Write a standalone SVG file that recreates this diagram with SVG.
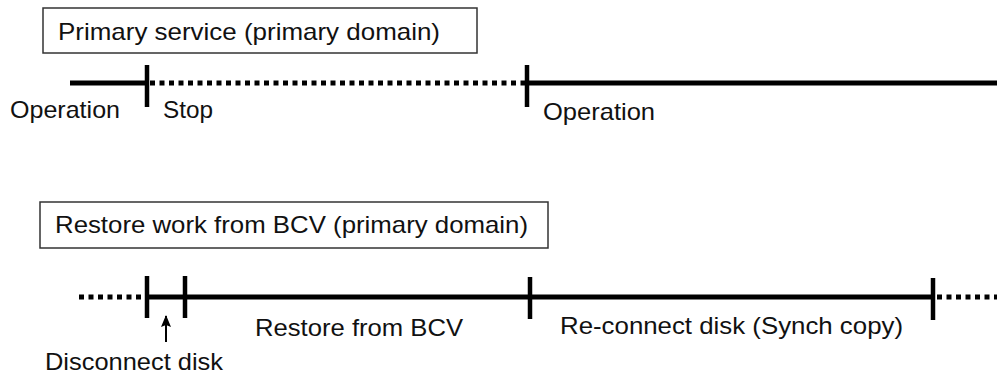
<svg xmlns="http://www.w3.org/2000/svg" width="997" height="376" viewBox="0 0 997 376">
<style>
.box{fill:#fff;stroke:#333;stroke-width:1.5}
.t{font-family:"Liberation Sans",Arial,sans-serif;font-size:24px;fill:#111}
.solid{stroke:#000;stroke-width:5;fill:none}
.dot{stroke:#000;stroke-width:5;stroke-dasharray:5 4.5;fill:none}
.tick{stroke:#000;stroke-width:4.5;fill:none}
</style>
<defs>
<marker id="ah" markerWidth="12" markerHeight="10" refX="11" refY="5" orient="auto" markerUnits="userSpaceOnUse" viewBox="0 0 12 10">
<path d="M0,0 L12,5 L0,10 L2,5 Z" fill="#000"/>
</marker>
</defs>
<rect width="997" height="376" fill="#fff"/>
<g id="node-primary-service">
<rect class="box" x="43" y="8" width="434" height="45"/>
<text class="t" x="58" y="40" textLength="382" lengthAdjust="spacingAndGlyphs">Primary service (primary domain)</text>
</g>
<g id="node-restore-work">
<rect class="box" x="40" y="202" width="508" height="46"/>
<text class="t" x="55" y="233" textLength="473" lengthAdjust="spacingAndGlyphs">Restore work from BCV (primary domain)</text>
</g>
<g id="connectors">
<line class="solid" x1="70" y1="83" x2="147" y2="83"/>
<line class="dot" x1="150" y1="83" x2="527" y2="83"/>
<line class="solid" x1="527" y1="83" x2="997" y2="83"/>
<line class="tick" x1="147" y1="65" x2="147" y2="107"/>
<line class="tick" x1="527" y1="65" x2="527" y2="107"/>
<line class="dot" x1="79" y1="297" x2="145" y2="297"/>
<line class="solid" x1="147" y1="297" x2="933" y2="297"/>
<line class="dot" x1="937" y1="297" x2="997" y2="297"/>
<line class="tick" x1="147" y1="276" x2="147" y2="318"/>
<line class="tick" x1="185" y1="276" x2="185" y2="318"/>
<line class="tick" x1="530" y1="277" x2="530" y2="319"/>
<line class="tick" x1="933" y1="278" x2="933" y2="320"/>
<line stroke="#000" stroke-width="2" x1="166" y1="342" x2="166" y2="316" marker-end="url(#ah)"/>
</g>
<g id="labels">
<text class="t" x="10" y="118" textLength="110" lengthAdjust="spacingAndGlyphs">Operation</text>
<text class="t" x="163" y="118" textLength="50" lengthAdjust="spacingAndGlyphs">Stop</text>
<text class="t" x="543" y="120" textLength="112" lengthAdjust="spacingAndGlyphs">Operation</text>
<text class="t" x="255" y="336" textLength="208" lengthAdjust="spacingAndGlyphs">Restore from BCV</text>
<text class="t" x="560" y="334" textLength="343" lengthAdjust="spacingAndGlyphs">Re-connect disk (Synch copy)</text>
<text class="t" x="45" y="370" textLength="178" lengthAdjust="spacingAndGlyphs">Disconnect disk</text>
</g>
</svg>
